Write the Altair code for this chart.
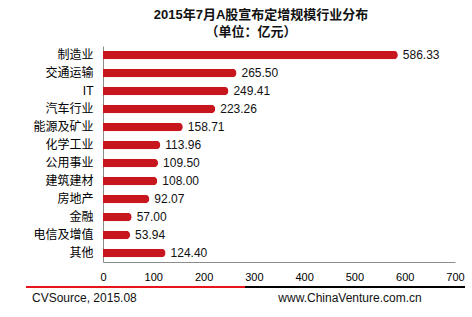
import altair as alt
import pandas as pd

categories = ["制造业", "交通运输", "IT", "汽车行业", "能源及矿业", "化学工业",
              "公用事业", "建筑建材", "房地产", "金融", "电信及增值", "其他"]
values = [586.33, 265.50, 249.41, 223.26, 158.71, 113.96,
          109.50, 108.00, 92.07, 57.00, 53.94, 124.40]
x_ticks = [0, 100, 200, 300, 400, 500, 600, 700]

title_text = "2015年7月A股宣布定增规模行业分布"
subtitle_text = "（单位：亿元）"
source_text = "CVSource, 2015.08"
site_text = "www.ChinaVenture.com.cn"

df = pd.DataFrame({"cat": categories, "val": values})
df["label"] = [f"{v:.2f}" for v in values]

FONT = "Arial, Liberation Sans, Noto Sans CJK SC"
RED = "#C8161E"

W, H = 352, 216

y_enc = alt.Y("cat:N", sort=categories, title=None,
              scale=alt.Scale(paddingInner=0.52, paddingOuter=0.26),
              axis=alt.Axis(ticks=False, domainColor="#8c8c8c", labelFontSize=12,
                            labelColor="#000", labelFont=FONT, labelPadding=10))
x_enc = alt.X("val:Q", title=None,
              scale=alt.Scale(domain=[0, 700], nice=False),
              axis=alt.Axis(values=x_ticks, ticks=False, grid=False, domainColor="#8c8c8c",
                            labelFontSize=11, labelColor="#000", labelFont=FONT,
                            labelPadding=9, labelFlush=False))

bars = alt.Chart(df).mark_bar(color=RED, cornerRadiusEnd=4).encode(x=x_enc, y=y_enc)
labels = alt.Chart(df).mark_text(align="left", baseline="middle", dx=5, fontSize=12,
                                 font=FONT, color="#111").encode(
    x="val:Q", y=alt.Y("cat:N", sort=categories), text="label:N")

anno = pd.DataFrame({"a": [0]})
title = alt.Chart(anno).mark_text(fontSize=13, fontWeight="bold", font=FONT, color="#111",
                                  align="center", baseline="middle").encode(
    x=alt.value(158), y=alt.value(-31), text=alt.value(title_text))
subtitle = alt.Chart(anno).mark_text(fontSize=13, fontWeight="bold", font=FONT, color="#111",
                                     align="center", baseline="middle").encode(
    x=alt.value(148), y=alt.value(-14), text=alt.value(subtitle_text))
red_line = alt.Chart(anno).mark_rule(color="#E8141C", strokeWidth=2).encode(
    x=alt.value(-77), x2=alt.value(142), y=alt.value(H + 25))
black_line = alt.Chart(anno).mark_rule(color="#000", strokeWidth=2).encode(
    x=alt.value(142), x2=alt.value(362), y=alt.value(H + 25))
src = alt.Chart(anno).mark_text(fontSize=12, font=FONT, color="#111", align="left",
                                baseline="middle").encode(
    x=alt.value(-71), y=alt.value(H + 36), text=alt.value(source_text))
site = alt.Chart(anno).mark_text(fontSize=12, font=FONT, color="#111", align="center",
                                 baseline="middle").encode(
    x=alt.value(247), y=alt.value(H + 36), text=alt.value(site_text))

chart = alt.layer(bars, labels, title, subtitle, red_line, black_line, src, site).properties(
    width=W, height=H,
    autosize=alt.AutoSizeParams(type="none"),
    padding={"left": 103, "top": 46, "right": 17, "bottom": 55},
    background="white",
).configure_view(stroke=None)

chart.save("out.html", embed_options={"renderer": "svg", "actions": False})
